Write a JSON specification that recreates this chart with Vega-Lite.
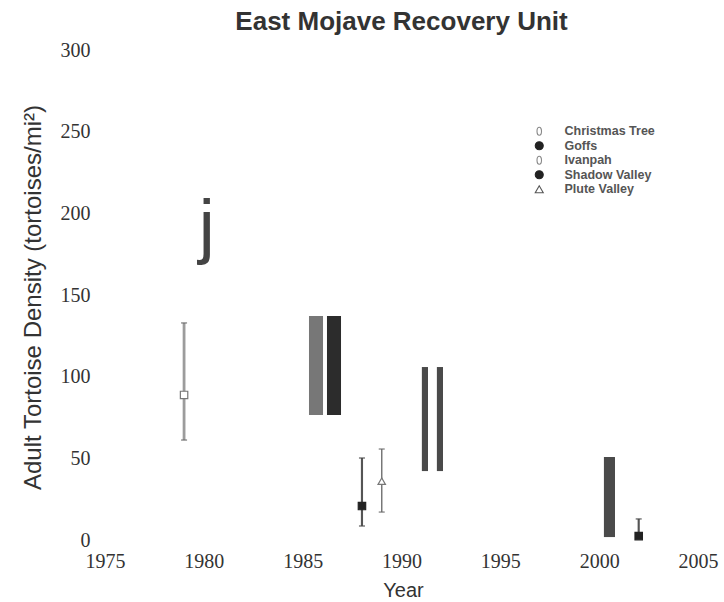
{
  "$schema": "https://vega.github.io/schema/vega-lite/v6.json",
  "width": 593,
  "height": 490,
  "autosize": {"type": "none"},
  "padding": {"left": 105, "top": 50, "right": 26, "bottom": 62},
  "background": "white",
  "title": {
    "text": "East Mojave Recovery Unit",
    "font": "Liberation Sans",
    "fontSize": 26,
    "fontWeight": "bold",
    "color": "#333333",
    "anchor": "middle",
    "offset": 5
  },
  "config": {
    "view": {"stroke": null},
    "axis": {"grid": false, "domain": false, "ticks": false, "labelFlush": false, "labelOverlap": false},
    "axisY": {
      "labelExpr": "datum.label == '300' ? '300\u2007\u2007\u2009' : datum.label"
    }
  },
  "datasets": {
    "bars": [
      {"site": "Christmas Tree", "start": 1985.32, "end": 1986.03, "low": 76.5, "high": 137.2},
      {"site": "Goffs", "start": 1986.23, "end": 1986.94, "low": 76.5, "high": 137.2},
      {"site": "Shadow Valley", "start": 1991.03, "end": 1991.34, "low": 42.2, "high": 105.9},
      {"site": "Shadow Valley", "start": 1991.79, "end": 1992.1, "low": 42.2, "high": 105.9},
      {"site": "Shadow Valley", "start": 2000.24, "end": 2000.8, "low": 1.8, "high": 50.8}
    ],
    "errs": [
      {"site": "Ivanpah", "year": 1979, "lo": 61.2, "hi": 132.9, "mid": 88.8},
      {"site": "Shadow Valley", "year": 1988, "lo": 8.6, "hi": 50.2, "mid": 20.8},
      {"site": "Plute Valley", "year": 1989, "lo": 17.1, "hi": 55.7, "mid": 36.0},
      {"site": "Shadow Valley", "year": 2002, "lo": 2.4, "hi": 12.9, "mid": 2.4}
    ],
    "glyph": [{"year": 1980.15, "value": 177.6, "text": "j"}],
    "sites": [
      {"site": "Christmas Tree"},
      {"site": "Goffs"},
      {"site": "Ivanpah"},
      {"site": "Shadow Valley"},
      {"site": "Plute Valley"}
    ]
  },
  "layer": [
    {
      "data": {"name": "bars"},
      "mark": {"type": "rect"},
      "encoding": {
        "x": {
          "field": "start",
          "type": "quantitative",
          "scale": {"domain": [1975, 2005], "nice": false, "zero": false},
          "axis": {
            "values": [1975, 1980, 1985, 1990, 1995, 2000, 2005],
            "format": "d",
            "labelFont": "Liberation Serif",
            "labelFontSize": 20,
            "labelColor": "#333333",
            "labelPadding": 11,
            "title": "Year",
            "titleFont": "Liberation Sans",
            "titleFontSize": 20,
            "titleFontWeight": "normal",
            "titleColor": "#333333",
            "titleX": 298,
            "titleY": 50,
            "titleBaseline": "middle",
            "titleAlign": "center"
          }
        },
        "x2": {"field": "end"},
        "y": {
          "field": "low",
          "type": "quantitative",
          "scale": {"domain": [0, 300], "nice": false},
          "axis": {
            "values": [0, 50, 100, 150, 200, 250, 300],
            "labelExpr": "datum.label == '300' ? '300\u2007\u2007\u2009' : datum.label",
            "labelFont": "Liberation Serif",
            "labelFontSize": 20,
            "labelColor": "#333333",
            "labelPadding": 15,
            "title": "Adult Tortoise Density (tortoises/mi²)",
            "titleFont": "Liberation Sans",
            "titleFontSize": 24,
            "titleFontWeight": "normal",
            "titleColor": "#333333",
            "titleX": -72,
            "titleY": 247,
            "titleAngle": 270,
            "titleAlign": "center",
            "titleBaseline": "middle"
          }
        },
        "y2": {"field": "high"},
        "color": {
          "field": "site",
          "type": "nominal",
          "scale": {"domain": ["Christmas Tree", "Goffs", "Shadow Valley"], "range": ["#777777", "#2c2c2c", "#4a4a4a"]},
          "legend": null
        }
      }
    },
    {
      "data": {"name": "glyph"},
      "mark": {"type": "text", "font": "Liberation Sans", "fontSize": 72, "color": "#444444", "align": "center", "baseline": "alphabetic"},
      "encoding": {
        "x": {"field": "year", "type": "quantitative"},
        "y": {"field": "value", "type": "quantitative"},
        "text": {"field": "text"}
      }
    },
    {
      "data": {"name": "errs"},
      "mark": {"type": "rule"},
      "encoding": {
        "x": {"field": "year", "type": "quantitative"},
        "y": {"field": "lo", "type": "quantitative"},
        "y2": {"field": "hi"},
        "color": {
          "field": "site",
          "type": "nominal",
          "scale": {"domain": ["Ivanpah", "Shadow Valley", "Plute Valley"], "range": ["#9c9c9c", "#555555", "#777777"]},
          "legend": null
        },
        "strokeWidth": {
          "field": "site",
          "type": "nominal",
          "scale": {"domain": ["Ivanpah", "Shadow Valley", "Plute Valley"], "range": [2.8, 1.5, 1.5]},
          "legend": null
        }
      }
    },
    {
      "data": {"name": "errs"},
      "mark": {"type": "tick", "orient": "horizontal", "size": 6, "thickness": 1.5},
      "encoding": {
        "x": {"field": "year", "type": "quantitative"},
        "y": {"field": "lo", "type": "quantitative"},
        "color": {
          "field": "site",
          "type": "nominal",
          "scale": {"domain": ["Ivanpah", "Shadow Valley", "Plute Valley"], "range": ["#666666", "#444444", "#666666"]},
          "legend": null
        }
      }
    },
    {
      "data": {"name": "errs"},
      "mark": {"type": "tick", "orient": "horizontal", "size": 6, "thickness": 1.5},
      "encoding": {
        "x": {"field": "year", "type": "quantitative"},
        "y": {"field": "hi", "type": "quantitative"},
        "color": {
          "field": "site",
          "type": "nominal",
          "scale": {"domain": ["Ivanpah", "Shadow Valley", "Plute Valley"], "range": ["#666666", "#444444", "#666666"]},
          "legend": null
        }
      }
    },
    {
      "data": {"name": "errs"},
      "mark": {"type": "point", "size": 55, "strokeWidth": 1.2, "opacity": 1},
      "encoding": {
        "x": {"field": "year", "type": "quantitative"},
        "y": {"field": "mid", "type": "quantitative"},
        "shape": {
          "field": "site",
          "type": "nominal",
          "scale": {"domain": ["Ivanpah", "Shadow Valley", "Plute Valley"], "range": ["square", "square", "triangle-up"]},
          "legend": null
        },
        "fill": {
          "field": "site",
          "type": "nominal",
          "scale": {"domain": ["Ivanpah", "Shadow Valley", "Plute Valley"], "range": ["#ffffff", "#222222", "#ffffff"]},
          "legend": null
        },
        "stroke": {
          "field": "site",
          "type": "nominal",
          "scale": {"domain": ["Ivanpah", "Shadow Valley", "Plute Valley"], "range": ["#777777", "#222222", "#777777"]},
          "legend": null
        }
      }
    },
    {
      "data": {"name": "sites"},
      "mark": {"type": "point", "size": 64, "opacity": 0, "strokeWidth": 1.1},
      "encoding": {
        "shape": {
          "field": "site",
          "type": "nominal",
          "scale": {
            "domain": ["Christmas Tree", "Goffs", "Ivanpah", "Shadow Valley", "Plute Valley"],
            "range": ["M0,-1C0.75,-1 0.75,1 0,1C-0.75,1 -0.75,-1 0,-1Z", "circle", "M0,-1C0.75,-1 0.75,1 0,1C-0.75,1 -0.75,-1 0,-1Z", "circle", "triangle-up"]
          },
          "legend": {
            "orient": "none",
            "legendX": 428,
            "legendY": 75,
            "title": null,
            "labelFont": "Liberation Sans",
            "labelFontSize": 12.5,
            "labelFontWeight": "bold",
            "labelColor": "#555555",
            "labelOffset": 19,
            "labelLimit": 200,
            "symbolOpacity": 1,
            "symbolStrokeWidth": 1.1,
            "symbolSize": 64,
            "rowPadding": 1.5,
            "encode": {
              "labels": {
                "update": {
                  "fontWeight": {"signal": "datum.label === 'Ivanpah' ? 'normal' : 'bold'"},
                  "fill": {"signal": "datum.label === 'Ivanpah' ? '#777777' : '#555555'"}
                }
              }
            }
          }
        },
        "fill": {
          "field": "site",
          "type": "nominal",
          "scale": {
            "domain": ["Christmas Tree", "Goffs", "Ivanpah", "Shadow Valley", "Plute Valley"],
            "range": ["transparent", "#222222", "transparent", "#222222", "#ffffff"]
          }
        },
        "stroke": {
          "field": "site",
          "type": "nominal",
          "scale": {
            "domain": ["Christmas Tree", "Goffs", "Ivanpah", "Shadow Valley", "Plute Valley"],
            "range": ["#888888", "#222222", "#888888", "#222222", "#555555"]
          }
        }
      }
    }
  ],
  "resolve": {
    "scale": {"color": "independent", "shape": "independent", "fill": "independent", "stroke": "independent", "strokeWidth": "independent"}
  }
}
